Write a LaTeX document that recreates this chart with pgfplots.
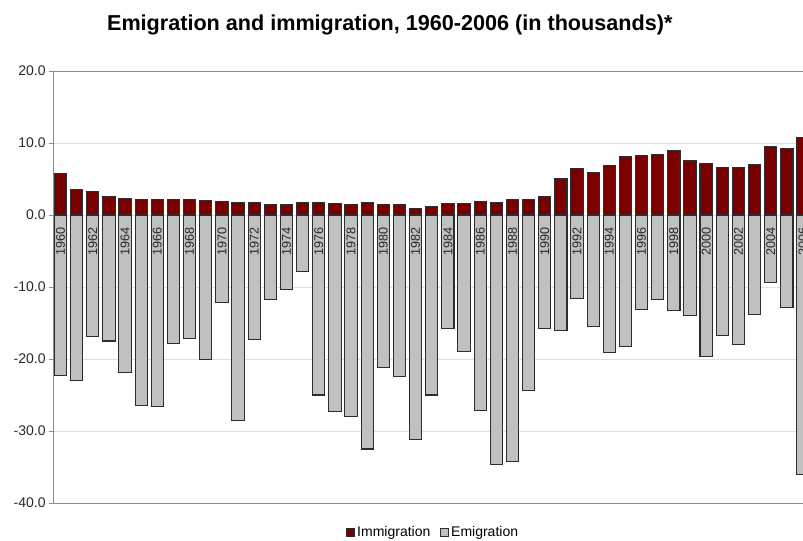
\documentclass[border=0pt]{standalone}
\usepackage{fontspec}
\setmainfont{Liberation Sans}
\usepackage{pgfplots}
\usepackage{pgfplotstable}
\pgfplotsset{compat=1.18}
\definecolor{imm}{RGB}{122,0,0}
\definecolor{emi}{RGB}{192,192,192}
\definecolor{barline}{RGB}{45,45,45}
\definecolor{txt}{RGB}{40,40,40}
\pgfplotstableread{
idx imm emi
0 5.7 -22.3
1 3.6 -23.0
2 3.3 -16.9
3 2.5 -17.5
4 2.3 -21.9
5 2.2 -26.4
6 2.2 -26.6
7 2.1 -17.9
8 2.2 -17.2
9 2.0 -20.1
10 1.9 -12.2
11 1.7 -28.6
12 1.8 -17.3
13 1.4 -11.7
14 1.4 -10.4
15 1.8 -7.8
16 1.8 -25.0
17 1.6 -27.3
18 1.5 -28.0
19 1.7 -32.5
20 1.5 -21.2
21 1.4 -22.4
22 0.9 -31.2
23 1.2 -25.0
24 1.6 -15.8
25 1.6 -18.9
26 1.9 -27.1
27 1.8 -34.6
28 2.1 -34.2
29 2.2 -24.4
30 2.6 -15.8
31 5.0 -16.0
32 6.5 -11.6
33 5.9 -15.5
34 6.9 -19.1
35 8.1 -18.2
36 8.2 -13.1
37 8.4 -11.8
38 8.9 -13.3
39 7.5 -14.0
40 7.2 -19.7
41 6.6 -16.7
42 6.6 -18.0
43 7.0 -13.8
44 9.5 -9.4
45 9.3 -12.9
46 10.8 -36.1
}\datatable
\pgfplotstableread{
idx y year
0 0 1960
2 0 1962
4 0 1964
6 0 1966
8 0 1968
10 0 1970
12 0 1972
14 0 1974
16 0 1976
18 0 1978
20 0 1980
22 0 1982
24 0 1984
26 0 1986
28 0 1988
30 0 1990
32 0 1992
34 0 1994
36 0 1996
38 0 1998
40 0 2000
42 0 2002
44 0 2004
46 0 2006
}\yeartable
\begin{document}
\begin{tikzpicture}
\useasboundingbox (-39.75pt,-28.5pt) rectangle (562.5pt,377.25pt);
\begin{axis}[
  scale only axis, width=562.5pt, height=324pt,
  xmin=-0.465, xmax=46, ymin=-40, ymax=20,
  axis x line*=box, axis y line*=left,
  axis line style={draw=black!45, line width=0.6pt},
  ytick={-40,-30,-20,-10,0,10,20},
  ymajorgrids, grid style={draw=black!12, line width=0.6pt},
  ytick align=outside, major tick length=3pt,
  ytick style={draw=black!45, line width=0.6pt},
  yticklabel style={/pgf/number format/fixed, /pgf/number format/fixed zerofill, /pgf/number format/precision=1, /pgf/number format/assume math mode=true, font=\fontsize{10.5}{12}\selectfont, text=txt, xshift=1pt},
  xtick=\empty,
  title={Emigration and immigration, 1960-2006 (in thousands)*},
  title style={font=\bfseries\fontsize{16.2}{19}\selectfont, at={(0.449,1)}, anchor=center, yshift=28.75pt},
  legend style={at={(0.507,-0.067)}, anchor=center, draw=none, fill=none,
    legend columns=2, font=\fontsize{10.5}{12}\selectfont,
    /tikz/every even column/.append style={column sep=5pt}, inner sep=0pt},
  legend image code/.code={\draw[#1,draw=barline,line width=0.6pt] (0.5pt,-3pt) rectangle (6.5pt,3pt);},
]
\addplot[ybar, bar shift=0pt, bar width=0.76, fill=imm, draw=barline, line width=0.8pt] table[x=idx, y=imm] {\datatable};
\addlegendentry{Immigration}
\addplot[ybar, bar shift=0pt, bar width=0.76, fill=emi, draw=barline, line width=0.8pt] table[x=idx, y=emi] {\datatable};
\addlegendentry{Emigration}
\addplot[draw=none, mark=none, forget plot, clip=false,
  nodes near coords, point meta=explicit symbolic,
  nodes near coords style={yshift=-9pt, rotate=90, anchor=east, inner sep=0pt,
    font=\fontsize{9.5}{11}\selectfont, text=txt}]
  table[x=idx, y=y, meta=year] {\yeartable};
\end{axis}
\end{tikzpicture}
\end{document}
